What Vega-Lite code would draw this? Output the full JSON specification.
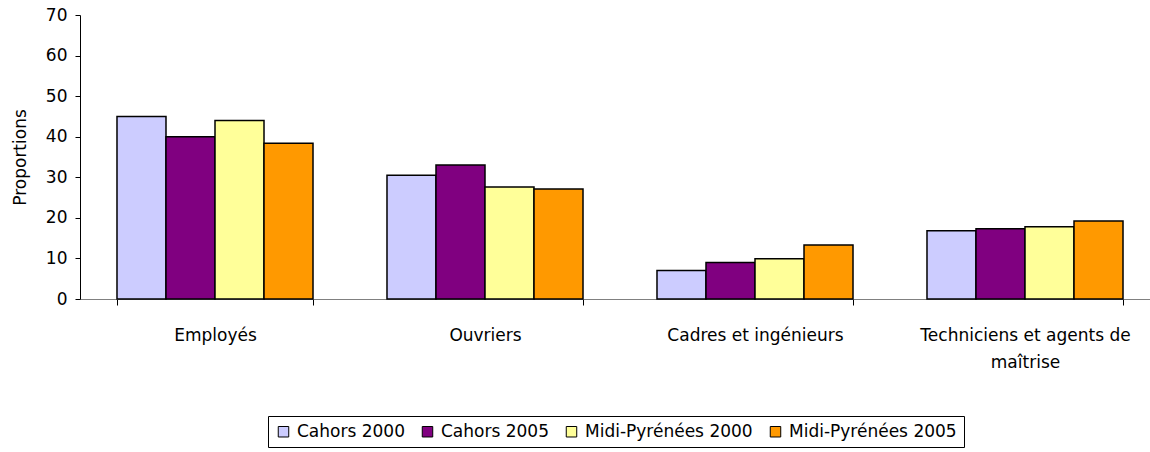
{
  "$schema": "https://vega.github.io/schema/vega-lite/v6.json",
  "autosize": {"type": "none"},
  "width": 1070,
  "height": 284,
  "padding": {"left": 80, "top": 15, "right": 0, "bottom": 153},
  "background": "white",
  "config": {
    "font": "DejaVu Sans",
    "view": {"stroke": null}
  },
  "data": {
    "values": [
      {"cat": "Employés", "serie": "Cahors 2000", "val": 45},
      {"cat": "Employés", "serie": "Cahors 2005", "val": 40},
      {"cat": "Employés", "serie": "Midi-Pyrénées 2000", "val": 44},
      {"cat": "Employés", "serie": "Midi-Pyrénées 2005", "val": 38.4},
      {"cat": "Ouvriers", "serie": "Cahors 2000", "val": 30.5},
      {"cat": "Ouvriers", "serie": "Cahors 2005", "val": 33},
      {"cat": "Ouvriers", "serie": "Midi-Pyrénées 2000", "val": 27.6},
      {"cat": "Ouvriers", "serie": "Midi-Pyrénées 2005", "val": 27.1},
      {"cat": "Cadres et ingénieurs", "serie": "Cahors 2000", "val": 7},
      {"cat": "Cadres et ingénieurs", "serie": "Cahors 2005", "val": 9},
      {"cat": "Cadres et ingénieurs", "serie": "Midi-Pyrénées 2000", "val": 9.9},
      {"cat": "Cadres et ingénieurs", "serie": "Midi-Pyrénées 2005", "val": 13.3},
      {"cat": "Techniciens et agents de maîtrise", "serie": "Cahors 2000", "val": 16.8},
      {"cat": "Techniciens et agents de maîtrise", "serie": "Cahors 2005", "val": 17.3},
      {"cat": "Techniciens et agents de maîtrise", "serie": "Midi-Pyrénées 2000", "val": 17.8},
      {"cat": "Techniciens et agents de maîtrise", "serie": "Midi-Pyrénées 2005", "val": 19.2}
    ]
  },
  "mark": {"type": "bar", "stroke": "black", "strokeWidth": 1.5},
  "encoding": {
    "x": {
      "field": "cat",
      "type": "nominal",
      "sort": ["Employés", "Ouvriers", "Cadres et ingénieurs", "Techniciens et agents de maîtrise"],
      "scale": {"range": [0, 1080], "paddingInner": 0.274, "paddingOuter": 0.137},
      "axis": {
        "title": null,
        "labelAngle": 0,
        "labelFontSize": 17,
        "labelColor": "black",
        "labelPadding": 22,
        "labelLineHeight": 27,
        "labelBaseline": "top",
        "labelLimit": 0,
        "tickBand": "extent",
        "tickSize": 6,
        "tickColor": "black",
        "domainColor": "#808080",
        "labelExpr": "datum.value == 'Techniciens et agents de maîtrise' ? ['Techniciens et agents de', 'maîtrise'] : datum.value"
      }
    },
    "xOffset": {
      "field": "serie",
      "type": "nominal",
      "sort": ["Cahors 2000", "Cahors 2005", "Midi-Pyrénées 2000", "Midi-Pyrénées 2005"],
      "scale": {"paddingInner": 0, "paddingOuter": 0}
    },
    "y": {
      "field": "val",
      "type": "quantitative",
      "scale": {"domain": [0, 70], "nice": false},
      "axis": {
        "title": "Proportions",
        "titleFontSize": 17,
        "titleFontWeight": "normal",
        "titleColor": "black",
        "titlePadding": 16,
        "values": [0, 10, 20, 30, 40, 50, 60, 70],
        "labelFontSize": 17,
        "labelColor": "black",
        "labelPadding": 8,
        "tickSize": 5,
        "tickColor": "black",
        "domainColor": "black",
        "grid": false
      }
    },
    "color": {
      "field": "serie",
      "type": "nominal",
      "sort": ["Cahors 2000", "Cahors 2005", "Midi-Pyrénées 2000", "Midi-Pyrénées 2005"],
      "scale": {
        "domain": ["Cahors 2000", "Cahors 2005", "Midi-Pyrénées 2000", "Midi-Pyrénées 2005"],
        "range": ["#CCCCFF", "#800080", "#FFFF99", "#FF9900"]
      },
      "legend": {
        "title": null,
        "orient": "none",
        "direction": "horizontal",
        "legendX": 188,
        "legendY": 401,
        "strokeColor": "black",
        "padding": 7,
        "symbolType": "square",
        "symbolSize": 110,
        "symbolStrokeColor": "black",
        "symbolStrokeWidth": 1,
        "symbolOpacity": 1,
        "labelFontSize": 17,
        "labelLimit": 0,
        "labelColor": "black",
        "labelOffset": 5,
        "columnPadding": 14
      }
    }
  }
}
